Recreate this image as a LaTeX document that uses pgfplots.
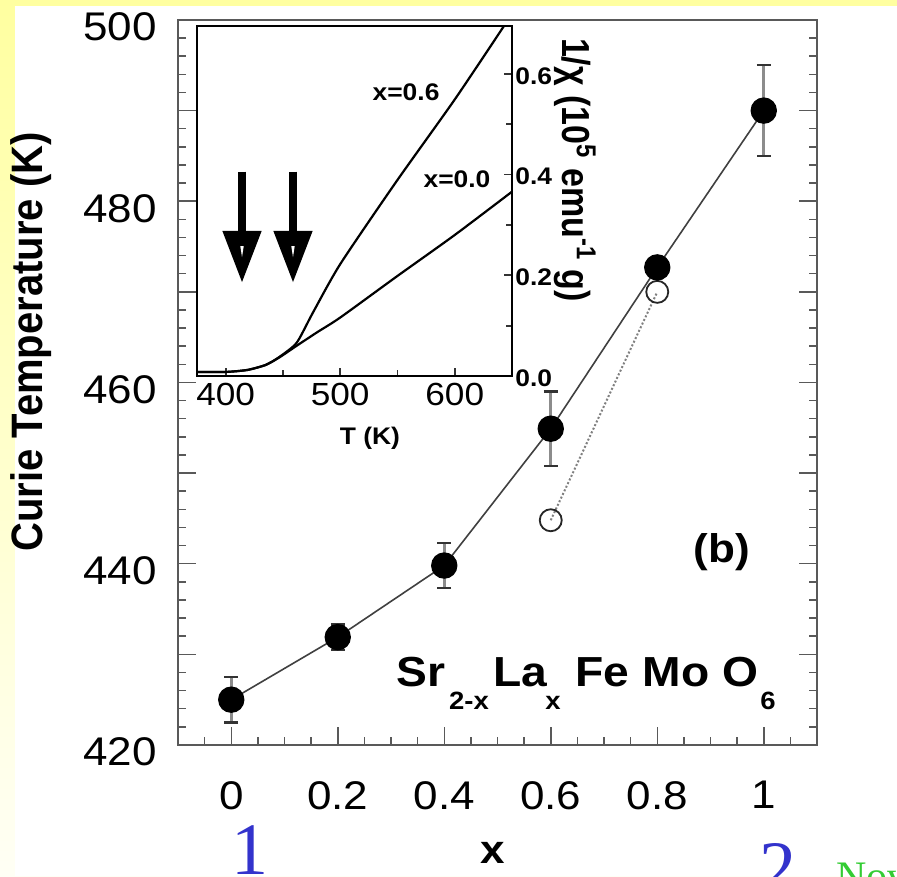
\documentclass[border=0pt]{standalone}
\usepackage{pgfplots}
\pgfplotsset{compat=1.18}
\usepackage{graphicx}
\usepackage{fontspec}
\setmainfont{Liberation Sans}
\newfontfamily\serifont{Liberation Serif}
\usetikzlibrary{arrows.meta}
\definecolor{bgtop}{RGB}{255,255,160}
\definecolor{bgbot}{RGB}{255,255,245}
\definecolor{slideblue}{RGB}{51,51,204}
\definecolor{slidegreen}{RGB}{51,204,51}
\newcommand{\hs}[1]{\scalebox{1.1}[1]{#1}}
\newcommand{\fs}[1]{\fontsize{#1}{#1}\selectfont}
\pgfplotstableread{
x y e
0 425.0 2.5
0.2 431.9 1.4
0.4 439.8 2.5
0.6 454.9 4.1
0.8 472.7 0.7
1.0 490.0 5.0
}\maindata
\begin{document}
\begin{tikzpicture}
\useasboundingbox (0,0) rectangle (448.5pt,438pt);
\fill[top color=bgtop, bottom color=bgbot] (0,0) rectangle (448.5pt,438pt);
\fill[white] (7.5pt,0) rectangle (448.5pt,435pt);

\begin{axis}[
  at={(89pt,65.5pt)}, anchor=south west, scale only axis,
  width=319.5pt, height=362.5pt,
  xmin=-0.1, xmax=1.1, ymin=420, ymax=500,
  axis line style={draw=black!65, line width=1.2pt},
  xtick={0,0.2,0.4,0.6,0.8,1},
  xticklabels={\hs{0},\hs{0.2},\hs{0.4},\hs{0.6},\hs{0.8},\hs{1}},
  minor xtick={-0.05,0.05,0.1,0.15,0.25,0.3,0.35,0.45,0.5,0.55,0.65,0.7,0.75,0.85,0.9,0.95,1.05},
  ytick={420,430,...,500},
  yticklabels={{\hs{420}},{},{\hs{440}},{},{\hs{460}},{},{\hs{480}},{},{\hs{500}}},
  minor y tick num=4,
  xtick pos=left, ytick pos=both, yticklabel pos=left,
  tick align=inside,
  major tick length=9pt, minor tick length=4pt,
  every tick/.style={draw=black!65, line width=0.75pt},
  xticklabel style={font=\fs{20}, inner sep=0pt, anchor=north, yshift=-18pt},
  yticklabel style={font=\fs{20}, inner sep=0pt, anchor=east, xshift=-10.5pt, yshift=-3.5pt},
  clip=false,
]
\addplot[black!50, densely dotted, line width=1pt, mark=o, mark size=5.5pt,
  mark options={solid, draw=black!85, line width=0.9pt}]
  coordinates {(0.6,444.8) (0.8,470.0)};
\addplot[black!75, line width=0.8pt, mark=*, mark size=6.2pt,
  mark options={fill=black, draw=black, solid},
  error bars/.cd, y dir=both, y explicit,
  error bar style={draw=black!45, line width=1.5pt},
  error mark options={rotate=90, mark size=3.4pt, line width=1.2pt, draw=black!80}]
  table[x=x, y=y, y error=e] {\maindata};
\end{axis}

\begin{axis}[
  at={(98.5pt,250pt)}, anchor=south west, scale only axis,
  width=157.5pt, height=175pt,
  xmin=375, xmax=650, ymin=0, ymax=0.695,
  axis background/.style={fill=white},
  axis line style={draw=black, line width=1.3pt},
  xtick={400,500,600}, minor xtick={450,550},
  xticklabels={\hs{400},\hs{500},\hs{600}},
  ytick={0,0.2,0.4,0.6}, minor ytick={0.1,0.3,0.5},
  yticklabels={\hs{\bfseries 0.0},\hs{\bfseries 0.2},\hs{\bfseries 0.4},\hs{\bfseries 0.6}},
  xtick pos=left, ytick pos=right, yticklabel pos=right,
  tick align=inside,
  major tick length=4pt, minor tick length=3pt,
  every tick/.style={draw=black!80, line width=0.9pt},
  xticklabel style={font=\fs{16}, inner sep=0pt, anchor=north, yshift=-3.5pt},
  yticklabel style={font=\fs{12}, inner sep=0pt, anchor=west, xshift=1.5pt, yshift=-1pt},
  clip=false,
]
% x = 0.6
\addplot[black, line width=1.1pt, smooth, tension=0.4] coordinates {
 (376,0.008) (400,0.008) (419,0.012) (435,0.022) (447,0.038) (462,0.066)
 (476,0.125) (500,0.222) (549,0.386) (600,0.549) (643,0.695)};
% x = 0.0
\addplot[black, line width=1.1pt, smooth, tension=0.4] coordinates {
 (376,0.008) (400,0.008) (419,0.012) (435,0.022) (447,0.037) (462,0.060)
 (480,0.087) (500,0.116) (549,0.197) (600,0.280) (650,0.366)};
\draw[line width=4pt, -{Triangle[width=18.5pt,length=26pt]}] (axis cs:414.3,0.406) -- (axis cs:414.3,0.185);
\draw[line width=4pt, -{Triangle[width=18.5pt,length=26pt]}] (axis cs:458.8,0.406) -- (axis cs:458.8,0.185);
\fill[white] (axis cs:412.8,0.258) -- (axis cs:415.8,0.258) -- (axis cs:414.3,0.236) -- cycle;
\fill[white] (axis cs:457.3,0.258) -- (axis cs:460.3,0.258) -- (axis cs:458.8,0.236) -- cycle;
\node[font=\fs{12}\bfseries] at (axis cs:557.5,0.563) {\hs{x=0.6}};
\node[font=\fs{12}\bfseries] at (axis cs:602,0.39) {\hs{x=0.0}};
\end{axis}

% inset labels
\node[font=\fs{12}\bfseries] at (185pt,219pt) {\hs{T (K)}};
\node[rotate=-90, font=\fs{17}\bfseries] at (287.5pt,353pt)
  {\scalebox{1}[1.15]{1/χ (10\textsuperscript{5} emu\textsuperscript{-1} g)}};

% main labels
\node[rotate=90, font=\fs{20}\bfseries] at (15.5pt,267pt)
  {\scalebox{1}[1.1]{Curie Temperature (K)}};
\node[font=\fs{20}\bfseries] at (246.5pt,11.5pt) {\hs{x}};
\node[font=\fs{20}\bfseries] at (361pt,162pt) {\hs{(b)}};

% formula
\begin{scope}[every node/.style={anchor=base, inner sep=0pt}]
\node[font=\fs{21}\bfseries] at (210.5pt,94.5pt) {\hs{Sr}};
\node[font=\fs{12.5}\bfseries] at (234.5pt,83pt) {\hs{2-x}};
\node[font=\fs{21}\bfseries] at (260pt,94.5pt) {\hs{La}};
\node[font=\fs{12.5}\bfseries] at (276.5pt,83pt) {\hs{x}};
\node[font=\fs{21}\bfseries] at (301pt,94.5pt) {\hs{Fe}};
\node[font=\fs{21}\bfseries] at (338pt,94.5pt) {\hs{Mo}};
\node[font=\fs{21}\bfseries] at (370pt,94.5pt) {\hs{O}};
\node[font=\fs{12.5}\bfseries] at (384pt,83pt) {\hs{6}};
% slide overlay
\node[font=\serifont\fs{37}, text=slideblue] at (125pt,1pt) {1};
\node[font=\serifont\fs{37}, text=slideblue] at (389pt,-8pt) {2};
\node[font=\serifont\fs{21}, text=slidegreen, anchor=base west] at (418pt,-7pt) {Nov};
\end{scope}
\end{tikzpicture}
\end{document}
